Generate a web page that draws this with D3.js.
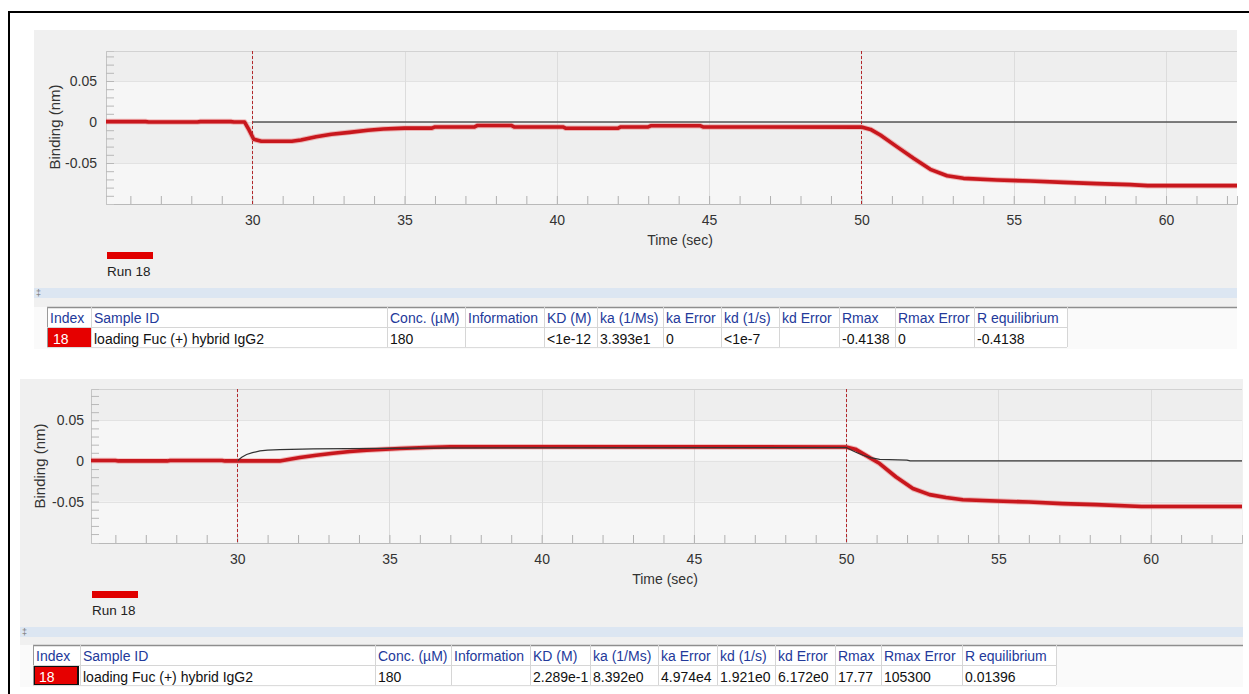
<!DOCTYPE html>
<html>
<head>
<meta charset="utf-8">
<script src="https://cdn.jsdelivr.net/npm/d3@7"></script>
<style>
  html, body { margin: 0; padding: 0; background: #ffffff; }
  svg { display: block; font-family: "Liberation Sans", Arial, sans-serif; }
</style>
</head>
<body>
<svg id="chart" width="1249" height="694"></svg>
<script>
// ---------- DATA ----------
// Top panel: measured sensorgram (time in sec, binding in nm)
const topTime = [25.2, 26.5, 26.6, 28.2, 28.3, 29.3, 29.4, 29.75, 29.9, 30.05, 30.3, 31.3, 31.6, 32.1, 32.6, 33.2, 33.8, 34.3, 35.0, 35.9, 36.0, 37.3, 37.4, 38.5, 38.6, 40.2, 40.3, 42.0, 42.1, 43.0, 43.1, 44.7, 44.8, 50.0, 50.3, 50.62, 51.16, 51.71, 52.26, 52.81, 53.35, 54.45, 55.54, 56.63, 57.73, 58.82, 59.4, 62.33];
const topBinding = [0.0005, 0.0005, 0.0, 0.0, 0.0005, 0.0005, 0.0, 0.0, -0.01, -0.021, -0.0235, -0.0235, -0.022, -0.018, -0.015, -0.0126, -0.010, -0.0085, -0.0075, -0.0075, -0.006, -0.006, -0.0042, -0.0042, -0.006, -0.006, -0.0077, -0.0077, -0.006, -0.006, -0.0045, -0.0045, -0.006, -0.0062, -0.009, -0.0159, -0.030, -0.0443, -0.0577, -0.0655, -0.0687, -0.0707, -0.072, -0.0736, -0.0752, -0.0764, -0.0776, -0.0776];
// Top panel: fit curve
const topFitTime = [30, 62.33];
const topFitBinding = [0, 0];

// Bottom panel: measured sensorgram
const botTime = [25.2, 26.0, 26.1, 27.7, 27.8, 29.5, 29.6, 31.4, 32.06, 32.6, 33.15, 33.7, 34.25, 35.34, 36.2, 37.0, 50.0, 50.3, 50.55, 51.1, 51.64, 52.19, 52.74, 53.28, 53.83, 54.92, 56.0, 57.1, 58.2, 59.7, 63.0];
const botBinding = [0.0005, 0.0005, 0.0, 0.0, 0.0005, 0.0005, 0.0, 0.0, 0.0042, 0.007, 0.0095, 0.0115, 0.0132, 0.0153, 0.0165, 0.0175, 0.0172, 0.0145, 0.009, -0.0032, -0.0198, -0.034, -0.0415, -0.045, -0.0477, -0.0494, -0.0506, -0.0526, -0.0538, -0.056, -0.056];
// Bottom panel: fit curve
const botFitTime = [30, 30.15, 30.31, 30.5, 30.75, 31.0, 31.4, 32.5, 33.6, 36.0, 50.0, 50.3, 50.55, 50.8, 51.1, 52.0, 52.1, 63.0];
const botFitBinding = [0, 0.0045, 0.0079, 0.0102, 0.0123, 0.0133, 0.014, 0.0148, 0.0152, 0.0158, 0.0165, 0.011, 0.007, 0.004, 0.002, 0.001, 0, 0];

// Step markers (association / dissociation start)
const stepTimes = [30, 50];

// Ticks
const xTicks = [30, 35, 40, 45, 50, 55, 60];
const xTickLabels = ["30", "35", "40", "45", "50", "55", "60"];
const xMinorTicks = [26, 27, 28, 29, 30, 31, 32, 33, 34, 35, 36, 37, 38, 39, 40, 41, 42, 43, 44, 45, 46, 47, 48, 49, 50, 51, 52, 53, 54, 55, 56, 57, 58, 59, 60, 61, 62];
const yTicks = [0.05, 0, -0.05];
const yTickLabels = ["0.05", "0", "-0.05"];
const yMinorTicks = [0.08, 0.07, 0.06, 0.05, 0.04, 0.03, 0.02, 0.01, 0, -0.01, -0.02, -0.03, -0.04, -0.05, -0.06, -0.07, -0.08, -0.09];

const seriesName = "Run 18";
const xTitle = "Time (sec)";
const yTitle = "Binding (nm)";

// Table contents
const tableHeaders = ["Index", "Sample ID", "Conc. (µM)", "Information", "KD (M)", "ka (1/Ms)", "ka Error", "kd (1/s)", "kd Error", "Rmax", "Rmax Error", "R equilibrium"];
const topRow = ["18", "loading Fuc (+) hybrid IgG2", "180", "", "<1e-12", "3.393e1", "0", "<1e-7", "", "-0.4138", "0", "-0.4138"];
const botRow = ["18", "loading Fuc (+) hybrid IgG2", "180", "", "2.289e-1", "8.392e0", "4.974e4", "1.921e0", "6.172e0", "17.77", "105300", "0.01396"];

// ---------- LAYOUT ----------
const svg = d3.select("#chart");
const RED = "#c8171d";
const px = v => Math.round(v) + 0.5;

// outer frame
svg.append("line").attr("x1", 9).attr("y1", 12).attr("x2", 1249).attr("y2", 12).attr("stroke", "#000").attr("stroke-width", 2);
svg.append("line").attr("x1", 9).attr("y1", 11).attr("x2", 9).attr("y2", 694).attr("stroke", "#000").attr("stroke-width", 2);

function drawPanel(cfg) {
  const g = svg.append("g");
  // panel background
  g.append("rect").attr("x", cfg.panel[0]).attr("y", cfg.panel[1])
    .attr("width", cfg.panel[2] - cfg.panel[0]).attr("height", cfg.panel[3] - cfg.panel[1])
    .attr("fill", "#f0f0f0");

  const x = d3.scaleLinear().domain(cfg.xDomain).range([cfg.left, cfg.right]);
  const y = d3.scaleLinear().domain(cfg.yDomain).range([cfg.bottom, cfg.top]);

  // alternating bands
  const bandEdges = [cfg.yDomain[1]].concat(yTicks).concat([cfg.yDomain[0]]);
  for (let i = 0; i < bandEdges.length - 1; i++) {
    g.append("rect")
      .attr("x", cfg.left).attr("width", cfg.right - cfg.left)
      .attr("y", y(bandEdges[i])).attr("height", y(bandEdges[i + 1]) - y(bandEdges[i]))
      .attr("fill", i % 2 === 0 ? "#eeeeee" : "#f6f6f6");
  }
  // horizontal gridlines
  g.selectAll(null).data(yTicks).enter().append("line")
    .attr("x1", cfg.left).attr("x2", cfg.right)
    .attr("y1", d => px(y(d))).attr("y2", d => px(y(d)))
    .attr("stroke", "#e2e2e2").attr("stroke-width", 1);
  // vertical gridlines
  g.selectAll(null).data(xTicks).enter().append("line")
    .attr("x1", d => px(x(d))).attr("x2", d => px(x(d)))
    .attr("y1", cfg.top).attr("y2", cfg.bottom)
    .attr("stroke", "#dcdcdc").attr("stroke-width", 1);
  // top border of plot
  g.append("line").attr("x1", cfg.left).attr("x2", cfg.right).attr("y1", cfg.top + 0.5).attr("y2", cfg.top + 0.5)
    .attr("stroke", "#d2d2d2");

  // minor ticks x
  const xMinorAxis = d3.axisBottom(x).tickValues(xMinorTicks).tickSize(-8).tickFormat("");
  const gx = g.append("g").attr("transform", `translate(0,${cfg.bottom})`).call(xMinorAxis);
  gx.select(".domain").attr("stroke", "#b9b9b9");
  gx.selectAll(".tick line").attr("stroke", "#b0b0b0");

  // major x labels
  const xLabAxis = d3.axisBottom(x).tickValues(xTicks).tickSize(0).tickPadding(11)
    .tickFormat((d, i) => xTickLabels[i]);
  const gxl = g.append("g").attr("transform", `translate(0,${cfg.bottom})`).call(xLabAxis);
  gxl.select(".domain").remove();
  gxl.selectAll("text").attr("font-size", 14).attr("fill", "#333")
    .attr("font-family", '"Liberation Sans", Arial, sans-serif');

  // minor ticks y
  const yMinorAxis = d3.axisLeft(y).tickValues(yMinorTicks.filter(v => v > cfg.yDomain[0] && v < cfg.yDomain[1]))
    .tickSize(-8).tickFormat("");
  const gy = g.append("g").attr("transform", `translate(${cfg.left},0)`).call(yMinorAxis);
  gy.select(".domain").attr("stroke", "#c4c4c4");
  gy.selectAll(".tick line").attr("stroke", "#b8b8b8");

  const yLabAxis = d3.axisLeft(y).tickValues(yTicks).tickSize(0).tickPadding(cfg.yPad)
    .tickFormat((d, i) => yTickLabels[i]);
  const gyl = g.append("g").attr("transform", `translate(${cfg.left},0)`).call(yLabAxis);
  gyl.select(".domain").remove();
  gyl.selectAll("text").attr("font-size", 14).attr("fill", "#333")
    .attr("font-family", '"Liberation Sans", Arial, sans-serif');

  // axis titles
  g.append("text").attr("x", cfg.xTitlePos[0]).attr("y", cfg.xTitlePos[1])
    .attr("text-anchor", "middle").attr("font-size", 14).attr("fill", "#333").text(xTitle);
  g.append("text").attr("transform", `translate(${cfg.yTitlePos[0]},${cfg.yTitlePos[1]}) rotate(-90)`)
    .attr("text-anchor", "middle").attr("dominant-baseline", "middle")
    .attr("font-size", 15).attr("fill", "#333").text(yTitle);

  const line = d3.line().x(d => x(d[0])).y(d => y(d[1]));
  const fitPts = cfg.fitT.map((t, i) => [t, cfg.fitB[i]]);
  const dataPts = cfg.t.map((t, i) => [t, cfg.b[i]]);

  // data: halo + main
  g.append("path").datum(dataPts).attr("d", line).attr("fill", "none")
    .attr("stroke", "#e86a6a").attr("stroke-width", 5.5).attr("stroke-opacity", 0.45).attr("stroke-linejoin", "round");
  g.append("path").datum(dataPts).attr("d", line).attr("fill", "none")
    .attr("stroke", RED).attr("stroke-width", 3.6).attr("stroke-linejoin", "round");

  // fit line
  g.append("path").datum(fitPts).attr("d", line).attr("fill", "none")
    .attr("stroke", cfg.fitColor).attr("stroke-width", cfg.fitWidth);

  // step markers
  g.selectAll(null).data(stepTimes).enter().append("line")
    .attr("x1", d => px(x(d))).attr("x2", d => px(x(d)))
    .attr("y1", cfg.top).attr("y2", cfg.bottom)
    .attr("stroke", "#b3262a").attr("stroke-width", 1).attr("stroke-dasharray", "3,2");

  // legend
  g.append("rect").attr("x", cfg.legend[0]).attr("y", cfg.legend[1]).attr("width", 46).attr("height", 7)
    .attr("fill", "#e00000");
  g.append("text").attr("x", cfg.legend[0]).attr("y", cfg.legend[1] + 24)
    .attr("font-size", 13.5).attr("fill", "#222").text(seriesName);

  // separator bar
  g.append("rect").attr("x", cfg.panel[0]).attr("y", cfg.bar).attr("width", cfg.panel[2] - cfg.panel[0]).attr("height", 10)
    .attr("fill", "#dce6f2");
  g.append("text").attr("x", cfg.panel[0] + 2).attr("y", cfg.bar + 8).attr("font-size", 9).attr("fill", "#777").text("‡");

  // table
  const cols = cfg.cols;
  const tTop = cfg.tableTop, rowH = cfg.rowH;
  g.append("rect").attr("x", cfg.panel[0]).attr("y", tTop).attr("width", cfg.panel[2] - cfg.panel[0])
    .attr("height", 2 * rowH + 2).attr("fill", "#fafafa");
  g.append("rect").attr("x", cols[0]).attr("y", tTop).attr("width", cols[cols.length - 1] - cols[0])
    .attr("height", 2 * rowH).attr("fill", "#ffffff");
  g.append("line").attr("x1", cols[0]).attr("x2", cfg.panel[2]).attr("y1", tTop + 0.5).attr("y2", tTop + 0.5)
    .attr("stroke", "#8e8e8e").attr("stroke-width", 1.5);
  // index red cell
  g.append("rect").attr("x", cols[0] + 1).attr("y", tTop + rowH + 1).attr("width", cols[1] - cols[0] - (cfg.selected ? 3 : 1))
    .attr("height", rowH - 1).attr("fill", "#e60000")
    .attr("stroke", cfg.selected ? "#111" : "none").attr("stroke-width", cfg.selected ? 2 : 0);
  // grid
  cols.forEach((cx, i) => {
    g.append("line").attr("x1", cx + 0.5).attr("x2", cx + 0.5).attr("y1", tTop).attr("y2", tTop + 2 * rowH)
      .attr("stroke", (i === 0) ? "#9a9a9a" : "#d6d6d6");
  });
  g.append("line").attr("x1", cols[0]).attr("x2", cols[cols.length - 1]).attr("y1", tTop + rowH + 0.5).attr("y2", tTop + rowH + 0.5)
    .attr("stroke", "#d6d6d6");
  g.append("line").attr("x1", cols[0]).attr("x2", cols[cols.length - 1]).attr("y1", tTop + 2 * rowH + 0.5).attr("y2", tTop + 2 * rowH + 0.5)
    .attr("stroke", "#dcdcdc");
  tableHeaders.forEach((h, i) => {
    g.append("text").attr("x", cols[i] + 3).attr("y", tTop + rowH - 4).attr("font-size", 14)
      .attr("fill", "#23399a").text(h);
  });
  cfg.row.forEach((v, i) => {
    g.append("text").attr("x", cols[i] + (i === 0 ? 6 : 3)).attr("y", tTop + 2 * rowH - 3).attr("font-size", 14)
      .attr("fill", i === 0 ? "#ffffff" : "#111").text(v);
  });
}

drawPanel({
  panel: [34, 30, 1237, 307],
  left: 106, right: 1237, top: 51, bottom: 204,
  xDomain: [25.2, 62.33], yDomain: [-0.1, 0.0866],
  yPad: 9,
  xTitlePos: [680, 245], yTitlePos: [56, 127],
  t: topTime, b: topBinding, fitT: topFitTime, fitB: topFitBinding,
  fitColor: "#555555", fitWidth: 1.6,
  legend: [107, 252],
  bar: 288,
  cols: [47, 91, 387, 465, 544, 597, 663, 721, 779, 839, 895, 974, 1067],
  tableTop: 307, rowH: 20,
  row: topRow, selected: false
});

drawPanel({
  panel: [20, 379, 1243, 645],
  left: 91, right: 1242, top: 389, bottom: 543,
  xDomain: [25.2, 63.0], yDomain: [-0.101, 0.0885],
  yPad: 7,
  xTitlePos: [665, 584], yTitlePos: [41, 466],
  t: botTime, b: botBinding, fitT: botFitTime, fitB: botFitBinding,
  fitColor: "#333333", fitWidth: 1.2,
  legend: [92, 591],
  bar: 627,
  cols: [33, 80, 375, 451, 530, 590, 658, 717, 775, 835, 881, 962, 1056],
  tableTop: 645, rowH: 20,
  row: botRow, selected: true
});
</script>
</body>
</html>
